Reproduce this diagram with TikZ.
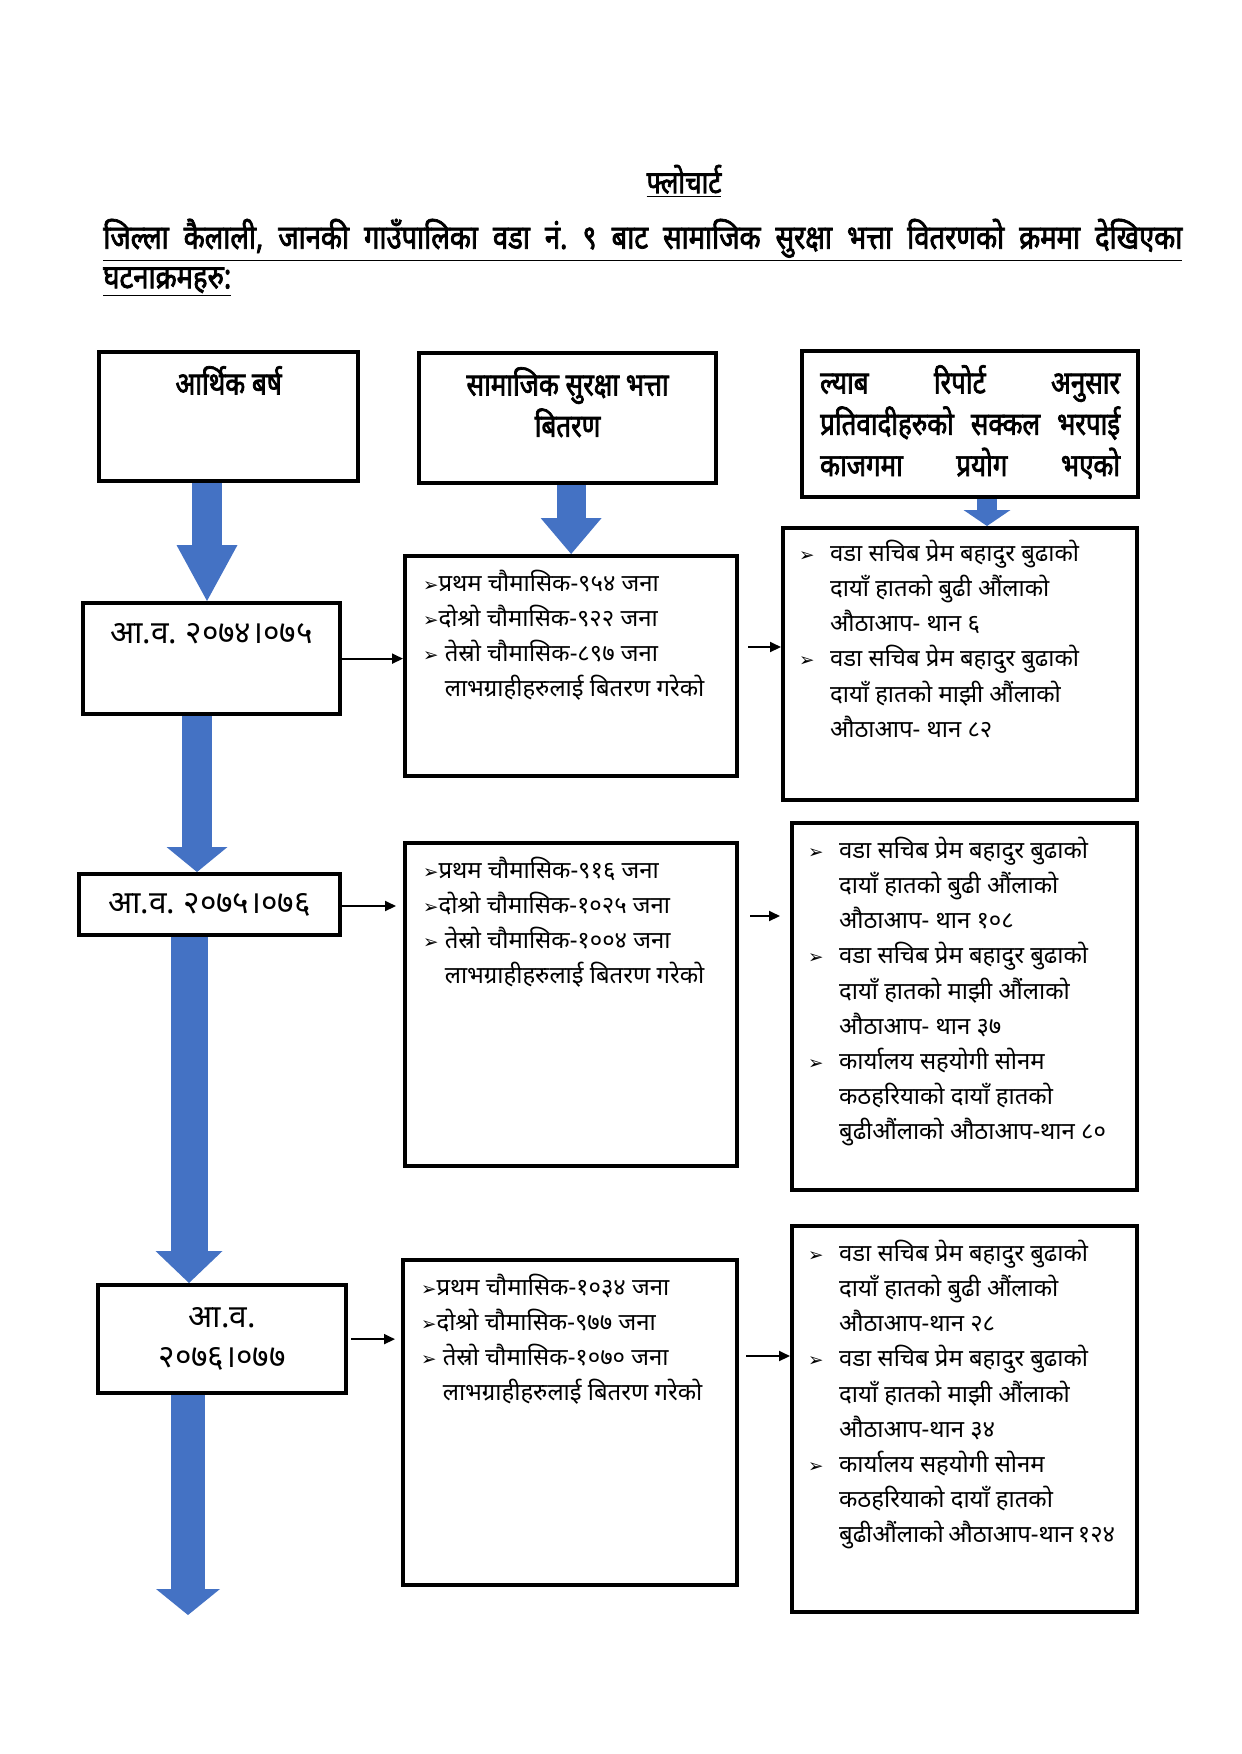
\documentclass[tikz,border=0pt]{standalone}
\usepackage{fontspec}
\setmainfont[Script=Devanagari]{Noto Sans}
\newfontfamily\titlefont[Script=Devanagari,FakeStretch=0.82,FakeBold=2.2]{Noto Sans}
\newfontfamily\dingfont{DejaVu Sans}
\usetikzlibrary{arrows.meta,backgrounds}
\newdimen\px \px=0.2mm
\definecolor{wdblue}{HTML}{4472C4}
\frenchspacing
\newcommand{\arr}{{\dingfont\fontsize{10.5pt}{10pt}\selectfont ➢}}
\newcommand{\itm}{\hspace*{-6\px}\makebox[31\px][l]{\arr}}
\newcommand{\ind}{\hspace*{25\px}}
\newcommand{\boxtext}[3]{\parbox[c][#1\px][t]{#2\px}{#3}}
\begin{document}
\begin{tikzpicture}[x=0.2mm,y=-0.2mm,
  every node/.style={font=\fontsize{13.6pt}{20pt}\selectfont},
  box/.style={draw,line width=0.85mm,anchor=north west,inner xsep=18\px,inner ysep=14\px},
  head/.style={font=\titlefont\fontsize{18pt}{23.5pt}\selectfont},
  year/.style={font=\fontsize{18pt}{23pt}\selectfont},
  blk/.style={wdblue,line width=#1},
  link/.style={-{Triangle[length=2.2mm,width=2mm]},line width=0.4mm}]
\useasboundingbox (0,0) rectangle (1241,1754);
% heading
\node[head] (ttl) at (684,181) {\underline{फ्लोचार्ट}};
\node[head,font=\titlefont\fontsize{19pt}{23.5pt}\selectfont,anchor=west,inner sep=0pt] (hdl1) at (103,240) {\underline{\makebox[1079\px][s]{जिल्ला कैलाली, जानकी गाउँपालिका वडा नं. ९ बाट सामाजिक सुरक्षा भत्ता वितरणको क्रममा देखिएका}}};
\node[head,font=\titlefont\fontsize{19pt}{23.5pt}\selectfont,anchor=west,inner sep=0pt] (hdl2) at (103,282) {\underline{घटनाक्रमहरु:}};
% column heads
\node[box,head,inner xsep=10\px] (hdA) at (97,350) {\boxtext{101}{239}{\centering आर्थिक बर्ष}};
\node[box,head,inner xsep=10\px] (hdB) at (417,351) {\boxtext{102}{277}{\centering सामाजिक सुरक्षा भत्ता\\ बितरण}};
\node[box,head] (hdC) at (800,349) {\boxtext{118}{300}{\makebox[300\px][s]{ल्याब रिपोर्ट अनुसार}\\ \makebox[300\px][s]{प्रतिवादीहरुको सक्कल भरपाई}\\ \makebox[300\px][s]{काजगमा प्रयोग भएको}}};
% fiscal years
\node[box,year,inner xsep=10\px,inner ysep=20\px] (yrA) at (81,601) {\boxtext{71}{237}{\centering आ.व. २०७४।०७५}};
\node[box,year,inner xsep=10\px,inner ysep=10\px] (yrB) at (77,872) {\parbox[c][41\px][c]{241\px}{\centering आ.व. २०७५।०७६}};
\node[box,year,inner xsep=10\px,inner ysep=22\px] (yrC) at (96,1283) {\boxtext{64}{228}{\centering आ.व.\\ २०७६।०७७}};
% distribution
\node[box] (mdA) at (403,554) {\boxtext{192}{296}{\arr प्रथम चौमासिक-९५४ जना\\ \arr दोश्रो चौमासिक-९२२ जना\\ \arr\ तेस्रो चौमासिक-८९७ जना\\ \phantom{\arr}\ लाभग्राहीहरुलाई बितरण गरेको}};
\node[box] (mdB) at (403,841) {\boxtext{295}{296}{\arr प्रथम चौमासिक-९१६ जना\\ \arr दोश्रो चौमासिक-१०२५ जना\\ \arr\ तेस्रो चौमासिक-१००४ जना\\ \phantom{\arr}\ लाभग्राहीहरुलाई बितरण गरेको}};
\node[box] (mdC) at (401,1258) {\boxtext{297}{298}{\arr प्रथम चौमासिक-१०३४ जना\\ \arr दोश्रो चौमासिक-९७७ जना\\ \arr\ तेस्रो चौमासिक-१०७० जना\\ \phantom{\arr}\ लाभग्राहीहरुलाई बितरण गरेको}};
% lab report
\node[box,inner xsep=22\px,inner ysep=12\px] (rtA) at (781,526) {\boxtext{248}{310}{\itm वडा सचिब प्रेम बहादुर बुढाको\\ \ind दायाँ हातको बुढी औंलाको\\ \ind औठाआप- थान ६\\ \itm वडा सचिब प्रेम बहादुर बुढाको\\ \ind दायाँ हातको माझी औंलाको\\ \ind औठाआप- थान ८२}};
\node[box,inner xsep=22\px] (rtB) at (790,821) {\boxtext{339}{301}{\itm वडा सचिब प्रेम बहादुर बुढाको\\ \ind दायाँ हातको बुढी औंलाको\\ \ind औठाआप- थान १०८\\ \itm वडा सचिब प्रेम बहादुर बुढाको\\ \ind दायाँ हातको माझी औंलाको\\ \ind औठाआप- थान ३७\\ \itm कार्यालय सहयोगी सोनम\\ \ind कठहरियाको दायाँ हातको\\ \ind बुढीऔंलाको औठाआप-थान ८०}};
\node[box,inner xsep=22\px] (rtC) at (790,1224) {\boxtext{358}{301}{\itm वडा सचिब प्रेम बहादुर बुढाको\\ \ind दायाँ हातको बुढी औंलाको\\ \ind औठाआप-थान २८\\ \itm वडा सचिब प्रेम बहादुर बुढाको\\ \ind दायाँ हातको माझी औंलाको\\ \ind औठाआप-थान ३४\\ \itm कार्यालय सहयोगी सोनम\\ \ind कठहरियाको दायाँ हातको\\ \ind बुढीऔंलाको औठाआप-थान १२४}};
\coordinate (yrEnd) at (188,1615);
% block arrows
\begin{scope}[on background layer]
\draw[blk=6mm,-{Triangle[line width=0pt,length=11.2mm,width=12.2mm]}] (hdA.south -| 207,0) -- (yrA.north -| 207,0);
\draw[blk=5.8mm,-{Triangle[line width=0pt,length=7.2mm,width=12.2mm]}] (hdB.south -| mdA.north) -- (mdA.north);
\draw[blk=4mm,-{Triangle[line width=0pt,length=3.2mm,width=9.4mm]}] (hdC.south -| 987,0) -- (rtA.north -| 987,0);
\draw[blk=6mm,-{Triangle[line width=0pt,length=5mm,width=12.2mm]}] (yrA.south -| 197,0) -- (yrB.north -| 197,0);
\draw[blk=7.4mm,-{Triangle[line width=0pt,length=6.4mm,width=13.4mm]}] (yrB.south -| 189,0) -- (yrC.north -| 189,0);
\draw[blk=6.8mm,-{Triangle[line width=0pt,length=5.2mm,width=12.8mm]}] (yrC.south -| 188,0) -- (yrEnd);
\end{scope}
% thin arrows
\draw[link] (yrA.east) -- (yrA.east -| mdA.west);
\draw[link,shorten <=1.8mm] (mdA.east |- 0,647) -- (rtA.west |- 0,647);
\draw[link,shorten >=1.4mm] (yrB.east |- 0,906) -- (mdB.west |- 0,906);
\draw[link,shorten <=2.2mm,shorten >=2mm] (mdB.east |- 0,916) -- (rtB.west |- 0,916);
\draw[link,shorten <=0.6mm,shorten >=1.2mm] (yrC.east) -- (yrC.east -| mdC.west);
\draw[link,shorten <=1.4mm] (mdC.east |- 0,1356) -- (rtC.west |- 0,1356);
\end{tikzpicture}
\end{document}
